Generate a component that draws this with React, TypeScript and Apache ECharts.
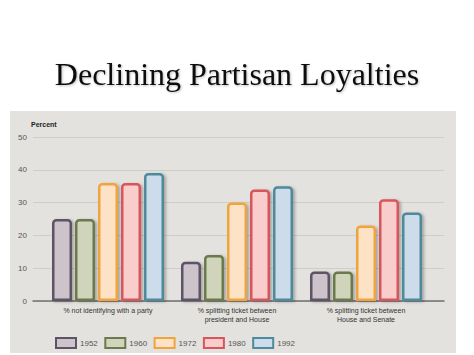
import React, { useEffect, useRef } from "react";
import * as echarts from "echarts";

const categories = [
  "% not identifying with a party",
  "% splitting ticket between\npresident and House",
  "% splitting ticket between\nHouse and Senate",
];
const years = ["1952", "1960", "1972", "1980", "1992"];
const values1952 = [25, 12, 9];
const values1960 = [25, 14, 9];
const values1972 = [36, 30, 23];
const values1980 = [36, 34, 31];
const values1992 = [39, 35, 27];
const seriesValues = [values1952, values1960, values1972, values1980, values1992];
const fills = ["#cdc4cb", "#cfd4bb", "#fde2c6", "#f9cdcb", "#cddcea"];
const borders = ["#5e5266", "#6a7a4d", "#f0a43e", "#d8555b", "#4e8a9b"];

export default function App() {
  const ref = useRef<HTMLDivElement>(null);
  useEffect(() => {
    const chart = echarts.init(ref.current!, null, { renderer: "svg" });
    const series: any[] = years.map((y, i) => ({
      name: y,
      type: "bar",
      xAxisIndex: 1,
      yAxisIndex: 1,
      data: seriesValues[i],
      barWidth: 20,
      barGap: "15%",
      itemStyle: {
        color: fills[i],
        borderColor: borders[i],
        borderWidth: 2.5,
        borderRadius: [3, 3, 0, 0],
        shadowColor: "rgba(0,0,0,0.28)",
        shadowBlur: 3,
        shadowOffsetX: 2,
        shadowOffsetY: 1,
      },
    }));
    chart.setOption({
      animation: false,
      title: {
        text: "Declining Partisan Loyalties",
        left: "center",
        top: 53,
        textStyle: {
          fontFamily: "Liberation Serif",
          fontWeight: "normal",
          fontSize: 32,
          color: "#111",
          textShadowColor: "rgba(0,0,0,0.25)",
          textShadowBlur: 2,
          textShadowOffsetX: 1,
          textShadowOffsetY: 1,
        },
      },
      graphic: [
        {
          type: "rect",
          z: -10,
          shape: { x: 10, y: 111, width: 446, height: 242 },
          style: { fill: "#e4e2de" },
        },
        {
          type: "text",
          x: 31,
          y: 121,
          style: {
            text: "Percent",
            fontFamily: "Liberation Sans",
            fontWeight: "bold",
            fontSize: 7,
            fill: "#222",
          },
        },
      ],
      legend: {
        left: 50,
        top: 332,
        itemWidth: 20,
        itemHeight: 10,
        itemGap: 6.5,
        icon: "rect",
        data: years,
        textStyle: { fontFamily: "Liberation Sans", fontSize: 8, color: "#555", padding: [0, 0, 0, -1] },
      },
      grid: [
        { left: 33, right: 30, top: 137, bottom: 54 },
        { left: 43.5, right: 43.5, top: 137, bottom: 54 },
      ],
      xAxis: [
        {
          type: "category",
          gridIndex: 0,
          data: categories,
          axisLine: { show: true, lineStyle: { color: "#707070", width: 1.5 } },
          axisTick: { show: false },
          axisLabel: { show: false },
        },
        {
          type: "category",
          gridIndex: 1,
          data: categories,
          axisLine: { show: false },
          axisTick: { show: false },
          axisLabel: {
            margin: 5,
            fontFamily: "Liberation Sans",
            fontSize: 7,
            lineHeight: 9,
            color: "#333",
          },
          z: 10,
        },
      ],
      yAxis: [
        {
          type: "value",
          gridIndex: 0,
          min: 0,
          max: 50,
          interval: 10,
          axisLine: { show: false },
          axisTick: { show: false },
          axisLabel: { margin: 6, fontFamily: "Liberation Sans", fontSize: 8, color: "#555" },
          splitLine: { lineStyle: { color: "#d0cdc8", width: 1 } },
        },
        {
          type: "value",
          gridIndex: 1,
          min: 0,
          max: 50,
          interval: 10,
          axisLine: { show: false },
          axisTick: { show: false },
          axisLabel: { show: false },
          splitLine: { show: false },
        },
      ],
      series,
    });
    return () => chart.dispose();
  }, []);
  return (
    <div
      ref={ref}
      style={{ position: "fixed", left: 0, top: 0, width: 474, height: 355, background: "#fff" }}
    />
  );
}
